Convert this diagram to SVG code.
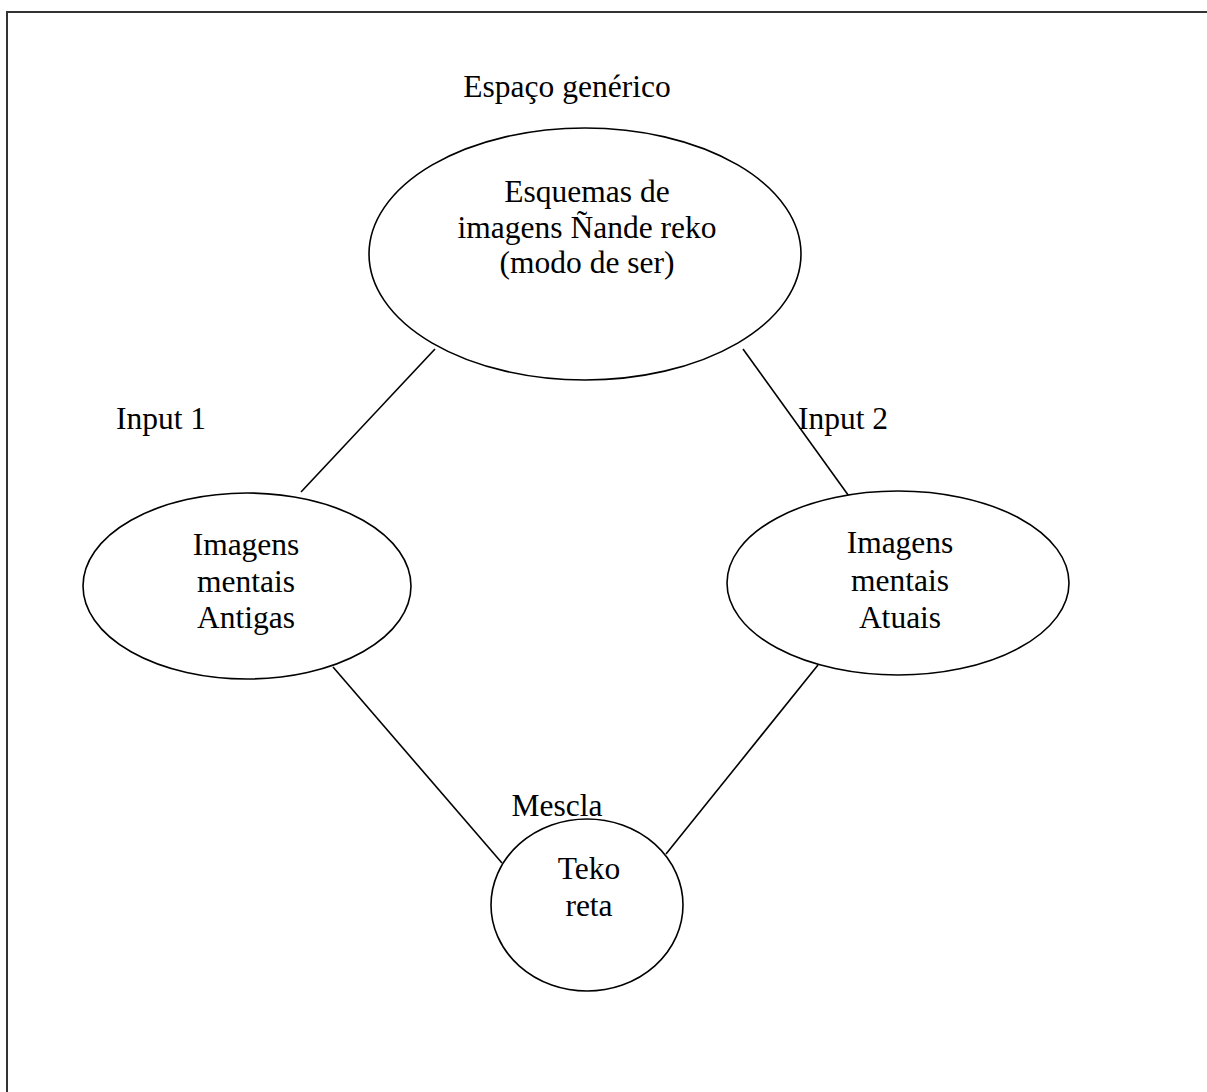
<svg xmlns="http://www.w3.org/2000/svg" width="1207" height="1092" viewBox="0 0 1207 1092">
<style>
  .node { fill: #ffffff; stroke: #000000; stroke-width: 1.6; }
  .edge { stroke: #000000; stroke-width: 1.6; fill: none; }
  text { font-family: "Liberation Serif", "Times New Roman", serif; font-size: 31.5px; fill: #000000; }
  .c { text-anchor: middle; }
</style>
<rect x="0" y="0" width="1207" height="1092" fill="#ffffff"/>
<rect id="frame" x="7" y="12" width="1300" height="1200" fill="none" stroke="#333333" stroke-width="2"/>
<g id="connectors">
  <line class="edge" x1="435" y1="349" x2="301" y2="492"/>
  <line class="edge" x1="743" y1="349" x2="851" y2="499"/>
  <line class="edge" x1="333" y1="667" x2="502" y2="863"/>
  <line class="edge" x1="818" y1="665" x2="666" y2="854"/>
</g>
<g id="labels">
  <text x="567" y="97" class="c">Espaço genérico</text>
  <text x="161" y="429" class="c">Input 1</text>
  <text x="843" y="429" class="c">Input 2</text>
  <text x="557" y="816" class="c">Mescla</text>
</g>
<g id="generic">
  <ellipse class="node" cx="585" cy="254" rx="216" ry="126"/>
  <text x="587" y="202" class="c">Esquemas de</text>
  <text x="587" y="238" class="c">imagens Ñande reko</text>
  <text x="587" y="273" class="c">(modo de ser)</text>
</g>
<g id="input1">
  <ellipse class="node" cx="247" cy="586" rx="164" ry="93"/>
  <text x="246" y="555" class="c">Imagens</text>
  <text x="246" y="592" class="c">mentais</text>
  <text x="246" y="628" class="c">Antigas</text>
</g>
<g id="input2">
  <ellipse class="node" cx="898" cy="583" rx="171" ry="92"/>
  <text x="900" y="553" class="c">Imagens</text>
  <text x="900" y="591" class="c">mentais</text>
  <text x="900" y="628" class="c">Atuais</text>
</g>
<g id="blend">
  <ellipse class="node" cx="587" cy="905" rx="96" ry="86"/>
  <text x="589" y="879" class="c">Teko</text>
  <text x="589" y="916" class="c">reta</text>
</g>
</svg>
